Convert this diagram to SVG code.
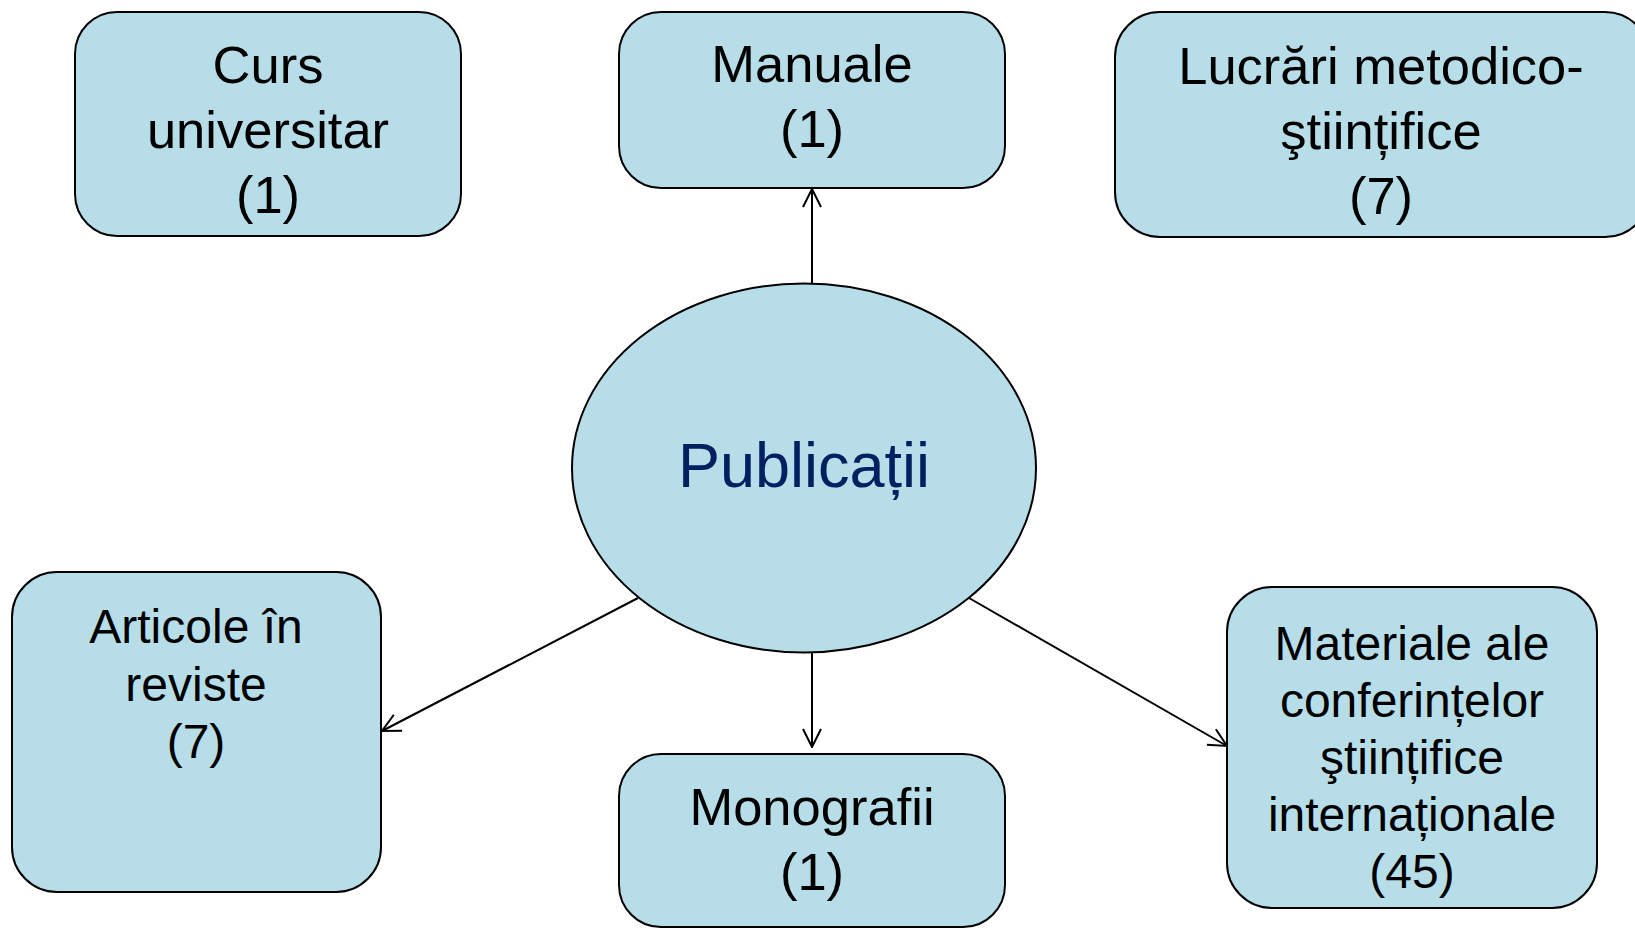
<svg xmlns="http://www.w3.org/2000/svg" width="1635" height="929" viewBox="0 0 1635 929">
  <style>
    .box { fill: #b7dee8; stroke: #000; stroke-width: 2; }
    .t52 { font-family: "Liberation Sans", Arial, sans-serif; font-size: 52.5px; fill: #000; text-anchor: middle; }
    .t48 { font-family: "Liberation Sans", Arial, sans-serif; font-size: 48px; fill: #000; text-anchor: middle; }
    .center { font-family: "Liberation Sans", Arial, sans-serif; font-size: 63px; fill: #002060; text-anchor: middle; }
    .conn { stroke: #000; stroke-width: 2; fill: none; marker-end: url(#arrow); }
  </style>
  <defs>
    <marker id="arrow" viewBox="0 0 20 20" refX="19" refY="10" markerWidth="20" markerHeight="20" markerUnits="userSpaceOnUse" orient="auto">
      <path d="M1,1 L19,10 L1,19" fill="none" stroke="#000" stroke-width="2"/>
    </marker>
  </defs>
  <rect width="1635" height="929" fill="#fff"/>

  <g id="connectors">
    <line class="conn" x1="812" y1="283" x2="812" y2="189"/>
    <line class="conn" x1="812" y1="652" x2="812" y2="747"/>
    <line class="conn" x1="638" y1="598" x2="382" y2="731"/>
    <line class="conn" x1="969" y1="598" x2="1227" y2="746"/>
  </g>

  <g id="node-publicatii">
    <ellipse cx="804" cy="468" rx="232" ry="184.5" class="box"/>
    <text class="center" x="804" y="487">Publicații</text>
  </g>

  <g id="node-curs">
    <rect x="75" y="12" width="386" height="224" rx="42" class="box"/>
    <text class="t52" x="268" y="83">Curs</text>
    <text class="t52" x="268" y="148">universitar</text>
    <text class="t52" x="268" y="213">(1)</text>
  </g>

  <g id="node-manuale">
    <rect x="619" y="12" width="386" height="176" rx="42" class="box"/>
    <text class="t52" x="812" y="82">Manuale</text>
    <text class="t52" x="812" y="147">(1)</text>
  </g>

  <g id="node-lucrari">
    <rect x="1115" y="12" width="535" height="225" rx="45" class="box"/>
    <text class="t52" x="1381" y="84">Lucrări metodico-</text>
    <text class="t52" x="1381" y="149">ştiințifice</text>
    <text class="t52" x="1381" y="214">(7)</text>
  </g>

  <g id="node-articole">
    <rect x="12" y="572" width="369" height="320" rx="45" class="box"/>
    <text class="t48" x="196" y="643">Articole în</text>
    <text class="t48" x="196" y="701">reviste</text>
    <text class="t48" x="196" y="758">(7)</text>
  </g>

  <g id="node-monografii">
    <rect x="619" y="754" width="386" height="173" rx="42" class="box"/>
    <text class="t52" x="812" y="825">Monografii</text>
    <text class="t52" x="812" y="890">(1)</text>
  </g>

  <g id="node-materiale">
    <rect x="1227" y="587" width="370" height="321" rx="45" class="box"/>
    <text class="t48" x="1412" y="660">Materiale ale</text>
    <text class="t48" x="1412" y="717">conferințelor</text>
    <text class="t48" x="1412" y="774">ştiințifice</text>
    <text class="t48" x="1412" y="831">internaționale</text>
    <text class="t48" x="1412" y="888">(45)</text>
  </g>
</svg>
